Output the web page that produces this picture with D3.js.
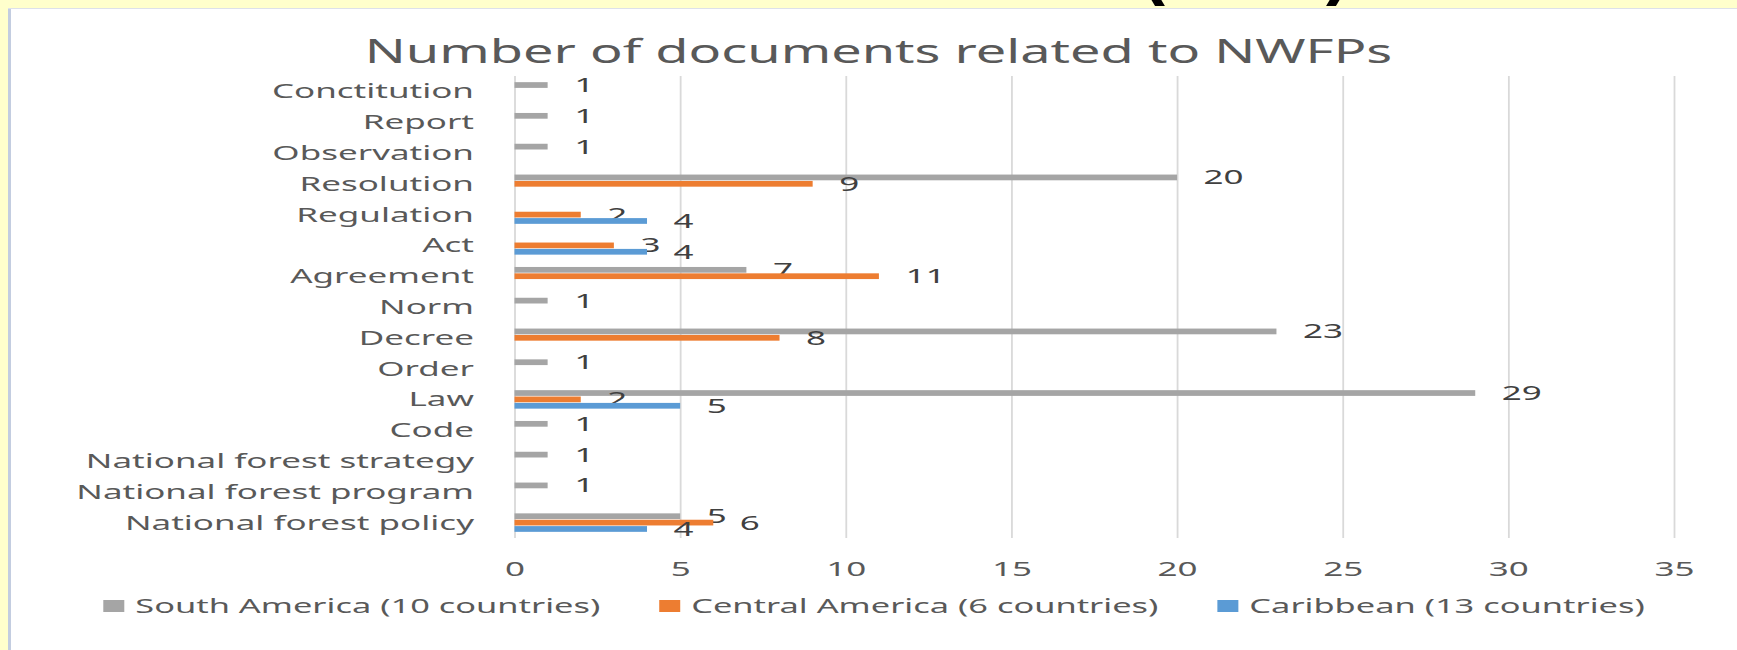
<!DOCTYPE html>
<html>
<head>
<meta charset="UTF-8">
<title>Number of documents related to NWFPs</title>
<script src="https://cdn.jsdelivr.net/npm/d3@7"></script>
<style>
  body { margin: 0; background: #FFFFCC; }
  svg { display: block; }
  text { font-family: "Noto Sans", sans-serif; }
</style>
</head>
<body>
<div id="chart"></div>
<script>
const categories = ["Conctitution", "Report", "Observation", "Resolution", "Regulation", "Act", "Agreement",
  "Norm", "Decree", "Order", "Law", "Code", "National forest strategy", "National forest program", "National forest policy"];
const southAmerica   = [1, 1, 1, 20, null, null, 7, 1, 23, 1, 29, 1, 1, 1, 5];
const centralAmerica = [null, null, null, 9, 2, 3, 11, null, 8, null, 2, null, null, null, 6];
const caribbean      = [null, null, null, null, 4, 4, null, null, null, null, 5, null, null, null, 4];
const seriesNames = ["South America (10 countries)", "Central America (6 countries)", "Caribbean (13 countries)"];
const seriesColors = ["#A5A5A5", "#ED7D31", "#5B9BD5"];
const xTicks = [0, 5, 10, 15, 20, 25, 30, 35];
const chartTitle = "Number of documents related to NWFPs";

const w = 1737;
const h = 650;
const sx = 1.75; // the picture is stretched sideways, so is the text
const plot = { left: 514.5, right: 1674, top: 76, bottom: 538 };

const svg = d3.select("#chart").append("svg")
  .attr("width", w)
  .attr("height", h);

// yellow page and white chart panel
svg.append("rect").attr("width", w).attr("height", h).attr("fill", "#FFFFCC");
svg.append("rect").attr("x", 8).attr("y", 8).attr("width", w - 8).attr("height", h - 8).attr("fill", "#fff");
svg.append("line").attr("x1", 9.5).attr("x2", 9.5).attr("y1", 8).attr("y2", h)
  .attr("stroke", "#c3cde0").attr("stroke-width", 3);
svg.append("line").attr("x1", 8).attr("x2", w).attr("y1", 8.5).attr("y2", 8.5)
  .attr("stroke", "#dde1ea").attr("stroke-width", 1);

// tails of the heading above, cut off by the page edge
svg.append("text").text("(").attr("x", 1141).attr("y", -9)
  .style("font-family", "Liberation Sans").style("font-weight", "bold").style("font-size", "72px").attr("fill", "#000");
svg.append("text").text(")").attr("x", 1326).attr("y", -9)
  .style("font-family", "Liberation Sans").style("font-weight", "bold").style("font-size", "72px").attr("fill", "#000");

const stretched = (g, x, y, str, size, color, anchor, k = sx) =>
  g.append("text")
    .text(str)
    .attr("transform", `translate(${x}, ${y}) scale(${k}, 1)`)
    .attr("text-anchor", anchor)
    .style("font-size", size + "px")
    .attr("fill", color);

stretched(svg, 878.5, 63, chartTitle, 32, "#595959", "middle", 1.69);

const xScale = d3.scaleLinear().domain([0, 35]).range([plot.left, plot.right]);
const yScale = d3.scaleBand().domain(categories).range([plot.top, plot.bottom])
  .paddingInner(0.4).paddingOuter(0.2);
const yInner = d3.scaleBand().domain(seriesNames).range([0, yScale.bandwidth()]).paddingInner(0.1);

// gridlines
const grid = svg.append("g")
  .attr("transform", `translate(0, ${plot.bottom})`)
  .call(d3.axisBottom(xScale).tickValues(xTicks).tickSize(-(plot.bottom - plot.top)).tickFormat(""));
grid.select(".domain").remove();
grid.selectAll("line").attr("stroke", "#d9d9d9").attr("stroke-width", 1.8);

// x tick labels
const xAxis = svg.append("g")
  .attr("transform", `translate(0, 576)`)
  .call(d3.axisBottom(xScale).tickValues(xTicks).tickSize(0).tickPadding(0));
xAxis.select(".domain").remove();
xAxis.selectAll("text")
  .attr("y", 0).attr("dy", 0)
  .attr("transform", `scale(${sx}, 1)`)
  .style("font-size", "20px")
  .style("font-family", "Noto Sans")
  .attr("fill", "#595959");

// category labels
const yAxis = svg.append("g")
  .attr("transform", `translate(474, 0)`)
  .call(d3.axisLeft(yScale).tickSize(0).tickPadding(0));
yAxis.select(".domain").remove();
yAxis.selectAll(".tick").attr("transform", d => `translate(0, ${yScale(d) + yScale.bandwidth() / 2 + 7})`);
yAxis.selectAll("text")
  .attr("x", 0).attr("dy", 0)
  .attr("transform", `scale(${sx}, 1)`)
  .style("font-size", "20px")
  .style("font-family", "Noto Sans")
  .attr("fill", "#595959");

// bars and labels
const seriesValues = [southAmerica, centralAmerica, caribbean];
seriesValues.forEach((values, si) => {
  const rows = categories.map((c, i) => ({ cat: c, v: values[i] })).filter(d => d.v !== null);
  const name = seriesNames[si];
  svg.append("g").selectAll("rect")
    .data(rows)
    .enter()
    .append("rect")
    .attr("x", xScale(0))
    .attr("y", d => yScale(d.cat) + yInner(name))
    .attr("width", d => xScale(d.v) - xScale(0))
    .attr("height", yInner.bandwidth())
    .attr("fill", seriesColors[si]);

  const labels = svg.append("g");
  rows.forEach(d => {
    stretched(labels, xScale(d.v) + 26.5, yScale(d.cat) + yInner(name) + yInner.bandwidth() / 2 + 7,
      d.v, 20, "#404040", "start");
  });
});

// legend
const legend = svg.append("g");
const items = seriesNames.map((name, i) => {
  const g = legend.append("g");
  g.append("rect").attr("x", 0).attr("y", -6).attr("width", 21).attr("height", 12).attr("fill", seriesColors[i]);
  const t = stretched(g, 32, 7, name, 20, "#595959", "start", 1.72);
  return { g, width: 32 + t.node().getComputedTextLength() * 1.72 };
});
const gap = 59;
const total = d3.sum(items, d => d.width) + gap * (items.length - 1);
let lx = 874 - total / 2;
items.forEach(it => {
  it.g.attr("transform", `translate(${lx}, 606)`);
  lx += it.width + gap;
});
</script>
</body>
</html>
